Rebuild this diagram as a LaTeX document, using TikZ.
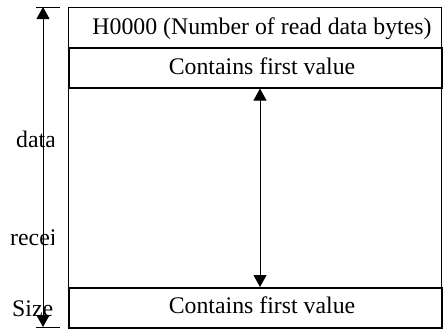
\documentclass[tikz,border=0pt]{standalone}
\usepackage{fontspec}
\setmainfont{Liberation Serif}
\usetikzlibrary{arrows.meta}
\begin{document}
\begin{tikzpicture}[x=1pt,y=-1pt,
  frame/.style={draw,line width=1pt},
  rowbox/.style={draw,line width=1.6pt,anchor=north west,minimum width=373pt,minimum height=40pt,inner sep=0pt},
  lbl/.style={font=\fontsize{23.8}{28}\selectfont,inner sep=0pt,anchor=base},
  side/.style={font=\fontsize{23.8}{28}\selectfont,inner sep=0pt,anchor=base west},
  dimarrow/.style={line width=1pt,{Triangle[width=13pt,length=12pt]}-{Triangle[width=13pt,length=12pt]}},
  tick/.style={line width=1pt}
]
\useasboundingbox (0,0) rectangle (443,330);
% outer frame and header
\node[frame,anchor=north west,minimum width=373pt,minimum height=320pt,inner sep=0pt] (frame) at (68,7) {};
\node[frame,anchor=north west,minimum width=373pt,minimum height=40pt,inner sep=0pt] (hdr) at (68,7) {};
\node[rowbox] (first) at (68,47) {};
\node[rowbox] (last) at (68,287) {};
\node[lbl] (hdrtxt) at (262,34) {H0000 (Number of read data bytes)};
\node[lbl] (firsttxt) at (262,74) {Contains first value};
\node[lbl] (lasttxt) at (262,313) {Contains first value};
% middle arrow
\coordinate (mx) at (260,0);
\draw[dimarrow] (first.south -| mx) -- (last.north -| mx);
% side labels (clipped)
\begin{scope}
  \clip (0,0) rectangle (53,330);
  \node[side] (t1) at (16,147) {data};
  \node[side] (t2) at (10,245) {recei};
  \node[side] (t3) at (12,316) {Size};
\end{scope}
% dimension line
\coordinate (dt) at (43,7);
\coordinate (db) at (43,327);
\coordinate (tl) at (36,7);
\coordinate (tr) at (60,7);
\coordinate (bl) at (36,327);
\coordinate (br) at (60,327);
\draw[tick] (tl) -- (tr);
\draw[tick] (bl) -- (br);
\draw[dimarrow] (dt) -- (db);
\end{tikzpicture}
\end{document}
